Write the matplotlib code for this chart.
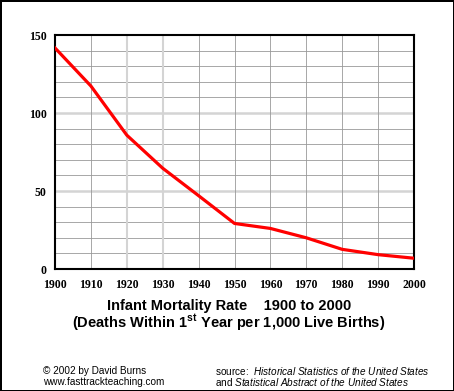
import numpy as np
import matplotlib.pyplot as plt

years = [1900, 1910, 1920, 1930, 1940, 1950, 1960, 1970, 1980, 1990, 2000]
rate = [141.7, 117.3, 85.8, 64.6, 47.0, 29.2, 26.0, 20.0, 12.6, 9.2, 6.9]
yticks = [0, 50, 100, 150]

plt.rcParams['mathtext.fontset'] = 'custom'
plt.rcParams['mathtext.bf'] = 'Liberation Sans:bold'
plt.rcParams['mathtext.it'] = 'Liberation Sans:italic'
plt.rcParams['mathtext.rm'] = 'Liberation Sans'

fig = plt.figure(figsize=(4.54, 3.91), dpi=100)
fig.patch.set_edgecolor('black')
fig.patch.set_linewidth(2)

ax = fig.add_axes([55/454, 1 - 269/391, 359/454, 234/391])

# grid
for v in range(10, 150, 10):
    light = v in (50, 100)
    ax.axhline(v, color='#d4d4d4' if light else '#999999',
               lw=1.8 if light else 0.6, zorder=1)
for yr in range(1910, 2000, 10):
    light = yr in (1920, 1930)
    ax.axvline(yr, color='#d4d4d4' if light else '#999999',
               lw=1.5 if light else 0.6, zorder=1)

ax.plot(years, rate, color='#ff0000', lw=2.3, zorder=3, solid_joinstyle='round')

ax.set_xlim(1900, 2000)
ax.set_ylim(0, 150)
ax.set_xticks(years)
ax.set_yticks(yticks)
ax.tick_params(length=0, labelsize=8.5)
ax.tick_params(axis='x', pad=7)
ax.tick_params(axis='y', pad=6)
for lab in ax.get_xticklabels() + ax.get_yticklabels():
    lab.set_fontfamily('Liberation Serif')
    lab.set_fontweight('bold')
for s in ax.spines.values():
    s.set_linewidth(1.5)

fig.text(229/454, 1 - 306/391, 'Infant Mortality Rate    1900 to 2000',
         ha='center', va='center', fontsize=10.5, fontweight='bold',
         family='Liberation Sans')
fig.text(229/454, 1 - 323/391,
         r'(Deaths Within 1$^{\mathbf{st}}$ Year per 1,000 Live Births)',
         ha='center', va='center', fontsize=10.5, fontweight='bold',
         family='Liberation Sans')

fig.text(43/454, 1 - 371/391, '\u00a9 2002 by David Burns', ha='left',
         va='center', fontsize=7.2, family='Liberation Sans')
fig.text(43/454, 1 - 382/391, 'www.fasttrackteaching.com', ha='left',
         va='center', fontsize=7.2, family='Liberation Sans')
fig.text(215/454, 1 - 371/391,
         r'source:  $\mathit{Historical\ Statistics\ of\ the\ United\ States}$',
         ha='left', va='center', fontsize=7.2, family='Liberation Sans')
fig.text(215/454, 1 - 382/391,
         r'and $\mathit{Statistical\ Abstract\ of\ the\ United\ States}$',
         ha='left', va='center', fontsize=7.2, family='Liberation Sans')

fig.savefig('out.png', dpi=100)
